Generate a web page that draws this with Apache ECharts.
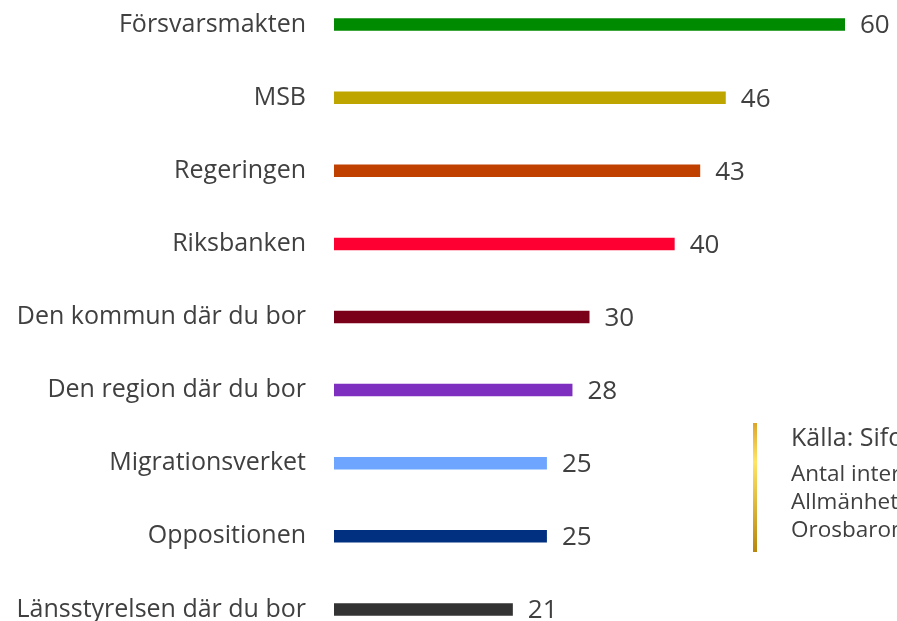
<!DOCTYPE html>
<html>
<head>
<meta charset="utf-8">
<script src="https://cdn.jsdelivr.net/npm/echarts@6/dist/echarts.min.js"></script>
<style>
html,body{margin:0;padding:0;background:#fff;overflow:hidden;width:897px;height:621px;}
#chart{position:absolute;left:0;top:-12px;width:897px;height:658px;}
</style>
</head>
<body>
<div id="chart"></div>
<script>
var categories = ["Försvarsmakten","MSB","Regeringen","Riksbanken","Den kommun där du bor","Den region där du bor","Migrationsverket","Oppositionen","Länsstyrelsen där du bor"];
var values = [60,46,43,40,30,28,25,25,21];
var barColors = ["#008A00","#BFA500","#C04000","#FF0033","#7A0019","#7F2FBF","#6EA6FF","#00307F","#333333"];
var sourceLines = ["Källa: Sifo","Antal intervjuer","Allmänheten","Orosbarometern"];

var textColor = "#404040";
var font = "'Open Sans', 'Noto Sans', sans-serif";
var dy = 12; // container is shifted up by 12px

var chart = echarts.init(document.getElementById('chart'), null, {renderer:'canvas'});
chart.setOption({
  animation:false,
  backgroundColor:'#ffffff',
  grid:{left:334, right:52, top:0, bottom:0, containLabel:false},
  xAxis:{type:'value', min:0, max:60, show:false},
  yAxis:{
    type:'category', inverse:true, data:categories,
    axisLine:{show:false}, axisTick:{show:false}, splitLine:{show:false},
    axisLabel:{margin:28, fontSize:25, color:textColor, fontFamily:font, padding:[3,0,0,0]}
  },
  series:[{
    type:'bar',
    barWidth:12.5,
    data:values.map(function(v,i){return {value:v, itemStyle:{color:barColors[i]}};}),
    label:{show:true, position:'right', distance:15, fontSize:26, color:textColor, fontFamily:font, offset:[0,1.5]}
  }],
  graphic:[
    {type:'rect', x:753, y:423+dy, shape:{x:0, y:0, width:4, height:129},
     style:{fill:new echarts.graphic.LinearGradient(0,0,0,1,[
       {offset:0, color:'#DDA52A'},{offset:0.3, color:'#FFE466'},{offset:1, color:'#B8860B'}])}},
    {type:'text', x:791, y:439+dy, style:{text:sourceLines[0], fontSize:25, fill:textColor, fontFamily:font, verticalAlign:'middle'}},
    {type:'text', x:791, y:475+dy, style:{text:sourceLines[1], fontSize:22.5, fill:textColor, fontFamily:font, verticalAlign:'middle'}},
    {type:'text', x:791, y:502.5+dy, style:{text:sourceLines[2], fontSize:22.5, fill:textColor, fontFamily:font, verticalAlign:'middle'}},
    {type:'text', x:791, y:530.5+dy, style:{text:sourceLines[3], fontSize:22.5, fill:textColor, fontFamily:font, verticalAlign:'middle'}}
  ]
});
</script>
</body>
</html>
